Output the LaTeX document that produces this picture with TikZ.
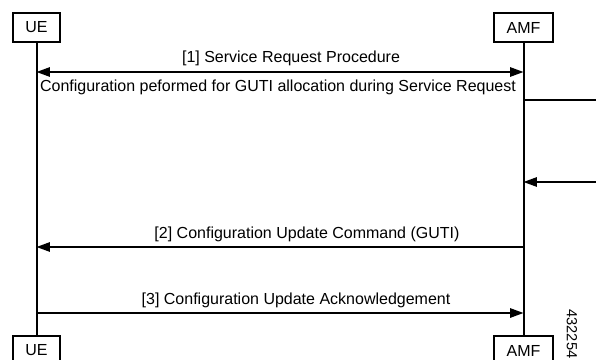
\documentclass[tikz,border=0pt]{standalone}
\usepackage{fontspec}
\setmainfont{Liberation Sans}
\usetikzlibrary{arrows.meta}

\tikzset{
  ent/.style={draw, line width=1.5pt, minimum height=21.75pt, inner sep=0pt},
  life/.style={line width=1.5pt},
  msg/.style={line width=1.2pt, -{Triangle[length=10pt,width=7pt]}},
  note/.style={inner sep=0pt}
}

\begin{document}
\begin{tikzpicture}[x=0.75pt, y=-0.75pt, font=\fontsize{12}{14}\selectfont]
    \useasboundingbox (0,0) rectangle (596,360);
    \clip (0,0) rectangle (596,360);

    % entities
    \node[ent, minimum width=35.25pt] (ue) at (36.5,27.5) {UE};
    \node[ent, minimum width=44.25pt] (amf) at (523.5,27.5) {AMF};
    \node[ent, minimum width=35.25pt] (ueb) at (36.5,350.5) {UE};
    \node[ent, minimum width=44.25pt] (amfb) at (523.5,350.5) {AMF};

    \draw[life] (ue) -- (ueb);
    \draw[life] (amf) -- (amfb);

    % points on the lifelines
    \coordinate (ue1) at (36.5,72);
    \coordinate (amf1) at (523.5,72);
    \coordinate (amf2) at (523.5,100);
    \coordinate (ext2) at (596,100);
    \coordinate (amf3) at (523.5,182);
    \coordinate (ext3) at (596,182);
    \coordinate (ue4) at (36.5,247);
    \coordinate (amf4) at (523.5,247);
    \coordinate (ue5) at (36.5,313);
    \coordinate (amf5) at (523.5,313);

    % [1]
    \draw[msg, {Triangle[length=10pt,width=7pt]}-{Triangle[length=10pt,width=7pt]}] (ue1) -- (amf1);
    \node[note] (m1) at (291,58) {[1] Service Request Procedure};
    \node[note] (c1) at (278,87) {Configuration peformed for GUTI allocation during Service Request};

    \draw[line width=1.2pt] (amf2) -- (ext2);
    \draw[msg] (ext3) -- (amf3);

    % [2]
    \draw[msg] (amf4) -- (ue4);
    \node[note] (m2) at (307,234) {[2] Configuration Update Command (GUTI)};

    % [3]
    \draw[msg] (ue5) -- (amf5);
    \node[note] (m3) at (296,300) {[3] Configuration Update Acknowledgement};

    \node[note, rotate=-90, font=\fontsize{11}{13}\selectfont] (fig) at (572,334) {432254};
\end{tikzpicture}
\end{document}
